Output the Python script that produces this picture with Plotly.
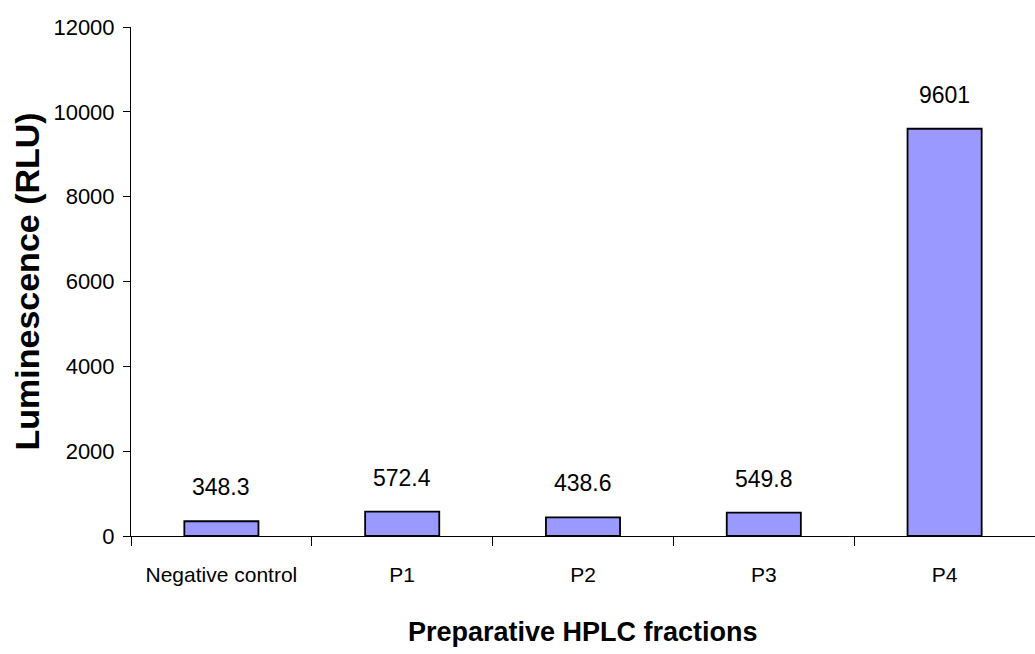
import plotly.graph_objects as go

# HPLC fraction luminescence readings
fractions = ["Negative control", "P1", "P2", "P3", "P4"]
luminescence = [348.3, 572.4, 438.6, 549.8, 9601]
y_ticks = [0, 2000, 4000, 6000, 8000, 10000, 12000]

FONT = "Liberation Sans, Arial, sans-serif"

fig = go.Figure()
fig.add_trace(go.Bar(
    x=fractions,
    y=luminescence,
    width=0.41,
    marker=dict(color="#9999FF", line=dict(color="black", width=1.8)),
    hoverinfo="x+y",
))

# value labels above each bar
for name, val in zip(fractions, luminescence):
    fig.add_annotation(
        x=name, y=val, xref="x", yref="y",
        text=f"{val:g}", showarrow=False,
        yanchor="middle", yshift=34,
        font=dict(family=FONT, size=23, color="black"),
    )

# axis titles
fig.add_annotation(
    text="<b>Preparative HPLC fractions</b>", showarrow=False,
    xref="paper", yref="paper", x=0.5, y=0, xanchor="center", yanchor="middle",
    yshift=-96, font=dict(family=FONT, size=27, color="black"),
)
fig.add_annotation(
    text="<b>Luminescence (RLU)</b>", showarrow=False, textangle=-90,
    xref="paper", yref="paper", x=0, y=0.5, xanchor="center", yanchor="middle",
    xshift=-105, font=dict(family=FONT, size=34, color="black"),
)

fig.update_layout(
    width=1035, height=654,
    margin=dict(l=131, r=0, t=27, b=118, autoexpand=False),
    paper_bgcolor="white", plot_bgcolor="white",
    showlegend=False,
)
fig.update_xaxes(
    type="category", range=[-0.5, 4.5], automargin=False,
    showline=True, linecolor="black", linewidth=1,
    ticks="outside", tickson="boundaries", ticklen=9, tickcolor="black",
    tickangle=0, ticklabelstandoff=20,
    tickfont=dict(family=FONT, size=21, color="black"),
    showgrid=False, zeroline=False,
)
fig.update_yaxes(
    range=[0, 12000], tickvals=y_ticks, tickformat="d", automargin=False,
    showline=True, linecolor="black", linewidth=1,
    ticks="outside", ticklen=7, tickcolor="black",
    ticklabelstandoff=4,
    tickfont=dict(family=FONT, size=22, color="black"),
    showgrid=False, zeroline=False,
)

fig.write_html("out.html")
